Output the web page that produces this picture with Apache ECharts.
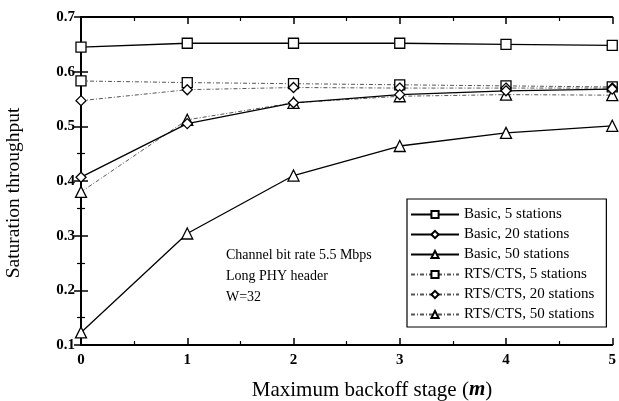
<!DOCTYPE html>
<html>
<head>
<meta charset="utf-8">
<script src="https://cdn.jsdelivr.net/npm/echarts@6/dist/echarts.min.js"></script>
<style>
  html, body { margin: 0; padding: 0; background: #fff; }
  #chart { width: 619px; height: 401px; }
</style>
</head>
<body>
<div id="chart"></div>
<script>
// Maximum backoff stage m
const stages = [0, 1, 2, 3, 4, 5];

// Saturation throughput, Basic access
const basic5  = [0.645, 0.652, 0.652, 0.652, 0.650, 0.648];
const basic20 = [0.407, 0.505, 0.543, 0.558, 0.565, 0.568];
const basic50 = [0.123, 0.304, 0.410, 0.464, 0.488, 0.501];

// Saturation throughput, RTS/CTS access
const rts5  = [0.583, 0.580, 0.578, 0.576, 0.574, 0.572];
const rts20 = [0.547, 0.567, 0.571, 0.570, 0.570, 0.570];
const rts50 = [0.380, 0.512, 0.543, 0.555, 0.558, 0.557];

const yTicks = [0.1, 0.2, 0.3, 0.4, 0.5, 0.6, 0.7];

const serif = '"Liberation Serif", "DejaVu Serif", serif';

function pairs(vals) { return stages.map((s, i) => [s, vals[i]]); }

function makeSeries(name, vals, symbol, dashed) {
  return {
    name: name,
    type: 'line',
    data: pairs(vals),
    symbol: symbol,
    symbolSize: symbol === 'triangle' ? 11 : 10,
    showSymbol: true,
    lineStyle: dashed
      ? { color: '#555', width: 1, type: [4, 2, 1, 2] }
      : { color: '#000', width: 1.3, type: 'solid' },
    itemStyle: { color: '#fff', borderColor: '#000', borderWidth: 1.3 },
    emphasis: { disabled: true },
    z: dashed ? 3 : 4
  };
}

const chart = echarts.init(document.getElementById('chart'), null, { renderer: 'canvas' });

const tickStyle = { show: true, inside: true, length: 7, lineStyle: { color: '#000', width: 1.5 } };
const minorStyle = { show: true, splitNumber: 2, length: 4, lineStyle: { color: '#000', width: 1.2 } };
const lineStyle = { show: true, lineStyle: { color: '#000', width: 2 } };

chart.setOption({
  animation: false,
  backgroundColor: '#fff',
  grid: { left: 81, right: 1, top: 17, bottom: 56, containLabel: false },
  xAxis: [{
    type: 'value', min: 0, max: 5, interval: 1, position: 'bottom',
    axisLine: lineStyle, axisTick: tickStyle, minorTick: minorStyle,
    axisLabel: { fontFamily: serif, fontSize: 15, fontWeight: 'bold', color: '#000', margin: 8 },
    splitLine: { show: false }
  }, {
    type: 'value', min: 0, max: 5, interval: 1, position: 'top',
    axisLine: lineStyle, axisTick: tickStyle, minorTick: minorStyle,
    axisLabel: { show: false }, splitLine: { show: false }
  }],
  yAxis: [{
    type: 'value', min: 0.1, max: 0.7, interval: 0.1, position: 'left',
    axisLine: lineStyle, axisTick: tickStyle, minorTick: minorStyle,
    axisLabel: { fontFamily: serif, fontSize: 15, fontWeight: 'bold', color: '#000', margin: 6,
      formatter: v => { const t = yTicks.find(x => Math.abs(x - v) < 1e-6); return t === undefined ? '' : t.toFixed(1); } },
    splitLine: { show: false }
  }, {
    type: 'value', min: 0.1, max: 0.7, interval: 0.1, position: 'right',
    axisLine: lineStyle, axisTick: tickStyle, minorTick: minorStyle,
    axisLabel: { show: false }, splitLine: { show: false }
  }],
  legend: {
    orient: 'vertical',
    left: 407, top: 199,
    width: 200,
    padding: [8, 12, 5, 3],
    itemGap: 5,
    itemWidth: 48, itemHeight: 9,
    borderColor: '#000', borderWidth: 1.2,
    backgroundColor: '#fff',
    textStyle: { fontFamily: serif, fontSize: 15, color: '#000' },
    data: ['Basic, 5 stations', 'Basic, 20 stations', 'Basic, 50 stations',
           'RTS/CTS, 5 stations', 'RTS/CTS, 20 stations', 'RTS/CTS, 50 stations']
  },
  graphic: [{
    type: 'text', left: 226, top: 245,
    style: {
      text: 'Channel bit rate 5.5 Mbps\nLong PHY header\nW=32',
      font: '14px "Liberation Serif", serif', fill: '#000', lineHeight: 21
    }
  }, {
    // x-axis title with italic m
    type: 'text', x: 372, y: 390,
    style: {
      text: '{n|Maximum backoff stage (}{i|m}{n|)}',
      align: 'center', verticalAlign: 'middle',
      rich: {
        n: { fontFamily: serif, fontSize: 21, fill: '#000', color: '#000' },
        i: { fontFamily: serif, fontSize: 21, fontStyle: 'italic', fontWeight: 'bold', color: '#000' }
      }
    }
  }, {
    type: 'text', x: 14, y: 193, rotation: Math.PI / 2,
    style: {
      text: 'Saturation throughput',
      align: 'center', verticalAlign: 'middle',
      font: '19.5px "Liberation Serif", serif', fill: '#000'
    }
  }],
  series: [
    makeSeries('Basic, 5 stations', basic5, 'rect', false),
    makeSeries('Basic, 20 stations', basic20, 'diamond', false),
    makeSeries('Basic, 50 stations', basic50, 'triangle', false),
    makeSeries('RTS/CTS, 5 stations', rts5, 'rect', true),
    makeSeries('RTS/CTS, 20 stations', rts20, 'diamond', true),
    makeSeries('RTS/CTS, 50 stations', rts50, 'triangle', true)
  ]
});
</script>
</body>
</html>
